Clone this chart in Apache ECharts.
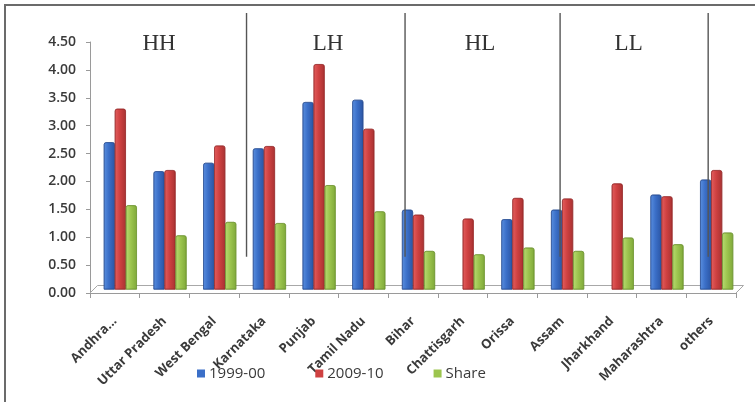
<!DOCTYPE html>
<html>
<head>
<meta charset="utf-8">
<script src="https://cdn.jsdelivr.net/npm/echarts@6/dist/echarts.min.js"></script>
<style>
  html, body { margin: 0; padding: 0; background: #ffffff; }
  #chart { width: 755px; height: 402px; }
</style>
</head>
<body>
<div id="chart"></div>
<script>
// States grouped by quadrant (HH, LH, HL, LL) plus the remainder
const states = ['Andhra...', 'Uttar Pradesh', 'West Bengal', 'Karnataka', 'Punjab', 'Tamil Nadu',
  'Bihar', 'Chattisgarh', 'Orissa', 'Assam', 'Jharkhand', 'Maharashtra', 'others'];
const y1999 = [2.64, 2.12, 2.27, 2.53, 3.36, 3.40, 1.43, null, 1.26, 1.43, null, 1.70, 1.97];
const y2009 = [3.24, 2.14, 2.58, 2.57, 4.04, 2.88, 1.34, 1.27, 1.64, 1.63, 1.90, 1.67, 2.14];
const share = [1.51, 0.97, 1.21, 1.19, 1.87, 1.40, 0.69, 0.63, 0.75, 0.69, 0.93, 0.81, 1.02];
const seriesNames = ['1999-00', '2009-10', 'Share'];
const groupNames = ['HH', 'LH', 'HL', 'LL'];
const yTicks = [0, 0.5, 1, 1.5, 2, 2.5, 3, 3.5, 4, 4.5];

const chart = echarts.init(document.getElementById('chart'), null, { renderer: 'canvas' });

function bevel(light, mid, dark) {
  return {
    type: 'linear', x: 0, y: 0, x2: 1, y2: 0,
    colorStops: [
      { offset: 0, color: light },
      { offset: 0.45, color: mid },
      { offset: 1, color: dark }
    ]
  };
}
const fills = [
  bevel('#5a8fdf', '#3b6fc8', '#2b55a3'),
  bevel('#e35e5e', '#cf4141', '#a83232'),
  bevel('#b8db72', '#9cc54e', '#7fa83a')
];
const flat = ['#3b6fc8', '#cf4141', '#9cc54e'];
const edges = ['#2a4f94', '#982b2b', '#6f9530'];

const axisFont = 'Open Sans';
const GRID = { left: 90, right: 19, top: 42, bottom: 109 };
// bars sit mid-depth of the 3-D floor: shifted right and up
const DEPTH = { dx: 5.5, dy: 3.5 };

const option = {
  backgroundColor: '#ffffff',
  animation: false,
  color: flat,
  grid: [
    { left: GRID.left, right: GRID.right, top: GRID.top, bottom: GRID.bottom },
    { left: GRID.left + DEPTH.dx, right: GRID.right - DEPTH.dx, top: GRID.top - DEPTH.dy, bottom: GRID.bottom + DEPTH.dy }
  ],
  legend: {
    data: seriesNames.map((n, i) => ({ name: n, itemStyle: { color: flat[i], borderWidth: 0 } })),
    left: 197, top: 366, padding: 0,
    itemWidth: 8, itemHeight: 8, itemGap: 50,
    icon: 'rect',
    textStyle: { fontFamily: axisFont, fontSize: 15, color: '#3a3a3a', padding: [0, 0, 0, -1] }
  },
  xAxis: [
    {
      type: 'category', gridIndex: 0, data: states, boundaryGap: true,
      axisLine: { show: true, lineStyle: { color: '#9a9a9a', width: 1 } },
      axisTick: { show: true, alignWithLabel: false, length: 5, lineStyle: { color: '#9a9a9a' } },
      axisLabel: {
        interval: 0, rotate: 45, margin: 26,
        fontFamily: axisFont, fontWeight: 700, fontSize: 13, color: '#3a3a3a'
      },
      splitLine: { show: false }
    },
    {
      type: 'category', gridIndex: 1, data: states, boundaryGap: true,
      show: false
    }
  ],
  yAxis: [
    {
      type: 'value', gridIndex: 0, min: 0, max: 4.5, interval: 0.5,
      axisLine: { show: true, lineStyle: { color: '#9a9a9a', width: 1 } },
      axisTick: { show: true, length: 4, lineStyle: { color: '#9a9a9a' } },
      axisLabel: {
        margin: 14, fontFamily: axisFont, fontWeight: 600, fontSize: 14, color: '#3a3a3a',
        formatter: v => yTicks.includes(v) ? v.toFixed(2) : ''
      },
      splitLine: { show: false }
    },
    {
      type: 'value', gridIndex: 1, min: 0, max: 4.5, interval: 0.5, show: false,
      splitLine: { show: false }
    }
  ],
  series: [y1999, y2009, share].map((vals, i) => ({
    name: seriesNames[i],
    type: 'bar',
    xAxisIndex: 1, yAxisIndex: 1,
    data: vals,
    barWidth: 11,
    barGap: '0%',
    itemStyle: { color: fills[i], borderColor: edges[i], borderWidth: 0.6, borderRadius: [2, 2, 0, 0] }
  }))
};
chart.setOption(option);

// Decorations: frame, 3-D floor, quadrant separators and quadrant names
function catX(p) {
  const a = chart.convertToPixel({ xAxisIndex: 0 }, 0);
  const b = chart.convertToPixel({ xAxisIndex: 0 }, 1);
  return a + (b - a) * p;
}
function valY(v) { return chart.convertToPixel({ yAxisIndex: 0 }, v); }

const xL = catX(-0.5), xR = catX(states.length - 0.5), y0 = valY(0);
const depth = 7.5;
const sepPos = [2.65, 5.84, 8.96, 11.94];
const labelPos = [0.89, 4.29, 7.35, 10.34];

const graphics = [
  { type: 'polyline', shape: { points: [[5, 402], [5, 5], [755, 5]] },
    style: { stroke: '#6b6b6b', lineWidth: 2, fill: null }, z: 10 },
  { type: 'polyline', shape: { points: [[xL, y0], [xL + depth, y0 - depth], [xR + depth, y0 - depth], [xR, y0]] },
    style: { stroke: '#a8a8a8', lineWidth: 1, fill: null }, z: 1 }
];
sepPos.forEach(p => {
  const x = catX(p);
  graphics.push({ type: 'line', shape: { x1: x, y1: valY(5.02), x2: x, y2: valY(0.65) },
    style: { stroke: '#555555', lineWidth: 1.4 }, z: 20 });
});
groupNames.forEach((g, i) => {
  graphics.push({ type: 'text', x: catX(labelPos[i]), y: valY(4.47),
    style: { text: g, fontFamily: 'Liberation Serif', fontSize: 23, fill: '#333333',
      textAlign: 'center', textVerticalAlign: 'middle' }, z: 20 });
});
chart.setOption({ graphic: graphics });
</script>
</body>
</html>
